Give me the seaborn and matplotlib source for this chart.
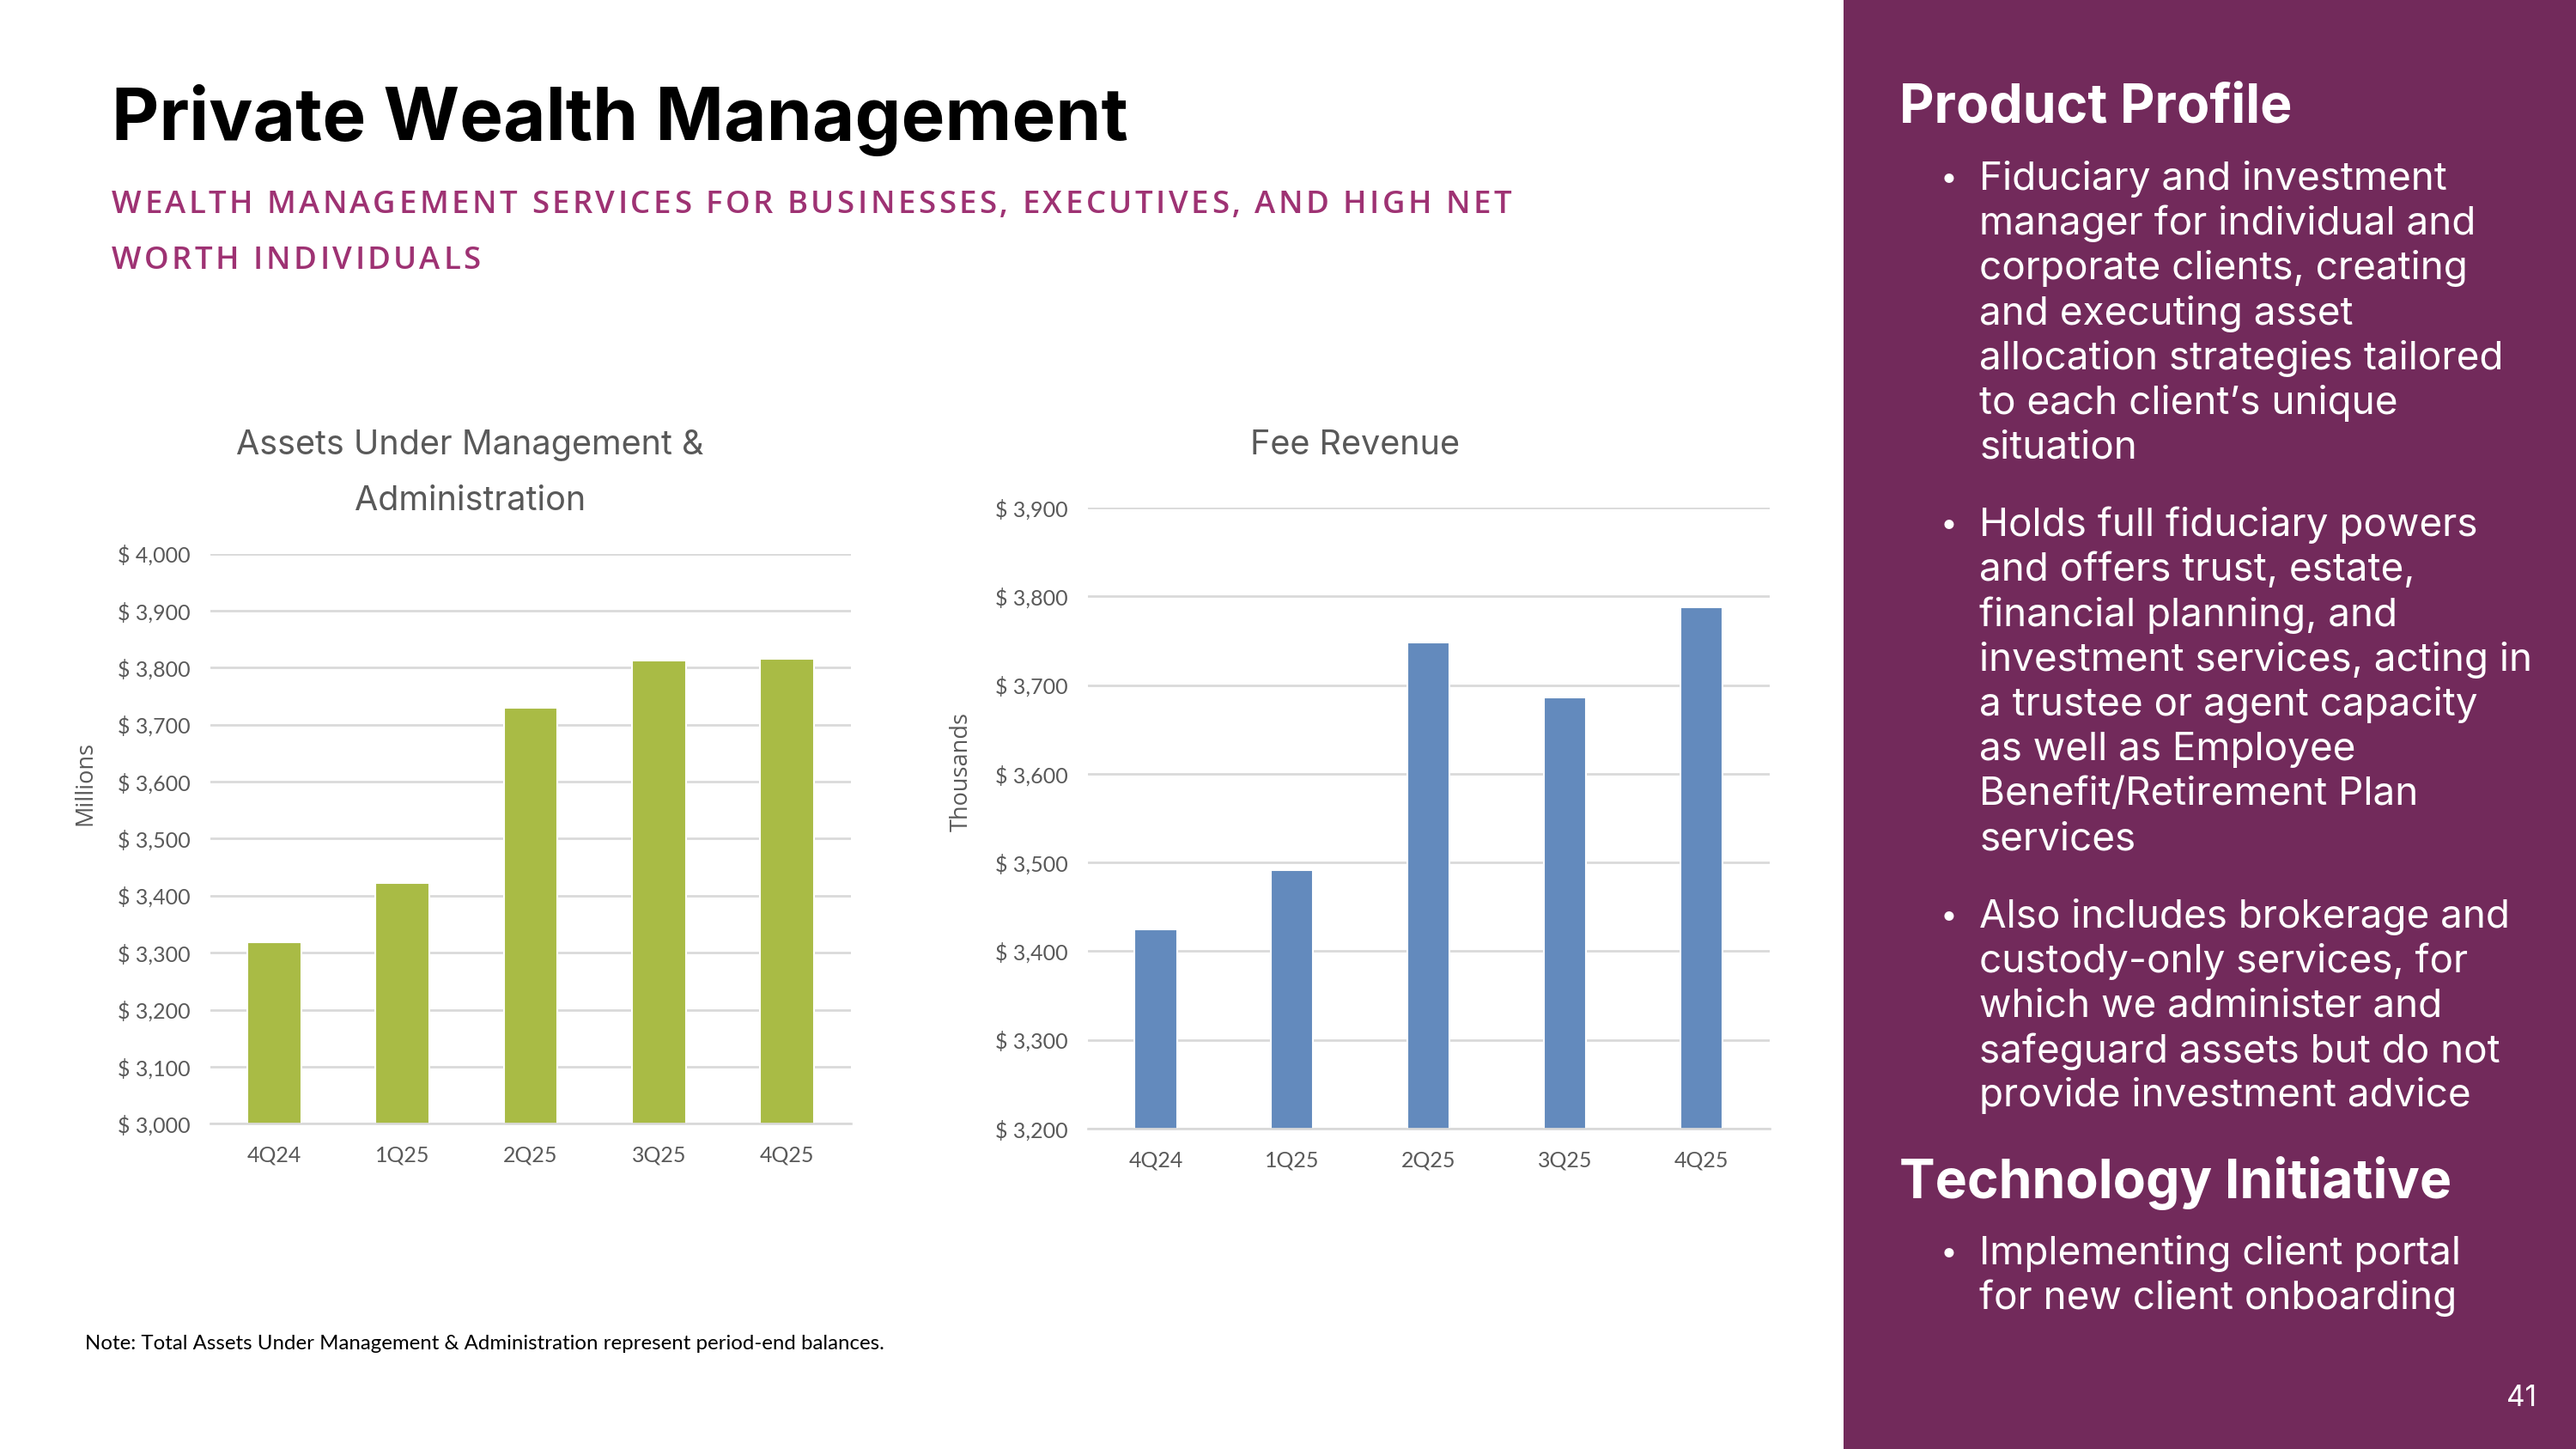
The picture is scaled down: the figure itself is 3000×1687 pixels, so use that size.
import matplotlib
matplotlib.use('Agg')
import matplotlib.pyplot as plt
import seaborn as sns
import pandas as pd
from matplotlib.ticker import FuncFormatter, MultipleLocator


quarters = ["4Q24", "1Q25", "2Q25", "3Q25", "4Q25"]
aum_values = [3319, 3423, 3730, 3813, 3815]        # millions
fee_values = [3425, 3491, 3748, 3686, 3788]        # thousands

bullets_profile = [
    ["Fiduciary and investment", "manager for individual and", "corporate clients, creating",
     "and executing asset", "allocation strategies tailored", "to each client\u2019s unique",
     "situation"],
    ["Holds full fiduciary powers", "and offers trust, estate,", "financial planning, and",
     "investment services, acting in", "a trustee or agent capacity", "as well as Employee",
     "Benefit/Retirement Plan", "services"],
    ["Also includes brokerage and", "custody-only services, for", "which we administer and",
     "safeguard assets but do not", "provide investment advice"],
]
bullets_tech = [["Implementing client portal", "for new client onboarding"]]

GREEN = "#A9BB45"
BLUE = "#638ABD"
GRID = "#D9D9D9"
GRAY = "#595959"
PLUM = "#722A5B"
MAGENTA = "#9E3273"

sns.set_theme(style="white")
plt.rcParams['font.family'] = ['Open Sans', 'DejaVu Sans']

W, H = 1568, 882
fig = plt.figure(figsize=(20, 20 * 1687 / 3000), dpi=150)
renderer = fig.canvas.get_renderer()
PX = 3000 / W   # output pixels per reference-view pixel


def fx(x):
    return x / W


def fy(y):
    return 1 - y / H


def money(v, pos):
    return f"$ {v:,.0f}"


def text_width(s, **kw):
    t = fig.text(0, 0, s, **kw)
    w = t.get_window_extent(renderer).width
    t.remove()
    return w


def spaced_text(x, y, s, target_w=None, spacing=None, **kw):
    # letter-spaced text, drawn glyph by glyph
    n = len(s)
    if spacing is None:
        spacing = (target_w * PX - text_width(s, **kw)) / (n - 1)
    x0 = x * fig.bbox.width
    for i, ch in enumerate(s):
        if ch == " ":
            continue
        xr = x0 + text_width(s[:i + 1], **kw) + spacing * i
        fig.text(xr / fig.bbox.width, y, ch, ha='right', **kw)
    return spacing


def bar_chart(rect, values, color, ylim, title_lines, title_cx, ylabel, ylab_x, ylab_y, width):
    ax = fig.add_axes(rect)
    df = pd.DataFrame({"quarter": quarters, "value": values})
    sns.barplot(data=df, x="quarter", y="value", color=color, width=width,
                saturation=1, ax=ax)
    ax.set_ylim(*ylim)
    ax.yaxis.set_major_locator(MultipleLocator(100))
    ax.yaxis.set_major_formatter(FuncFormatter(money))
    ax.grid(True, axis='y', color=GRID, lw=1.3)
    ax.set_axisbelow(True)
    for s in ["top", "right", "left"]:
        ax.spines[s].set_visible(False)
    ax.spines["bottom"].set_color(GRID)
    ax.spines["bottom"].set_linewidth(1.3)
    ax.tick_params(axis='both', length=0, labelsize=12, colors=GRAY)
    ax.tick_params(axis='x', pad=12)
    ax.tick_params(axis='y', pad=11)
    for t in ax.get_xticklabels() + ax.get_yticklabels():
        t.set_fontfamily(['Lato', 'DejaVu Sans'])
    ax.set_xlabel("")
    ax.set_ylabel("")
    fig.text(fx(ylab_x), fy(ylab_y), ylabel, rotation=90, ha='center', va='center',
             fontsize=13, color=GRAY, family=['Open Sans', 'DejaVu Sans'])
    for y, line in title_lines:
        fig.text(fx(title_cx), fy(y), line, ha='center', va='center', fontsize=19,
                 color=GRAY, family=['Inter', 'DejaVu Sans'])
    return ax


bar_chart([fx(128), fy(684), fx(518) - fx(128), fy(337) - fy(684)], aum_values, GREEN,
          (3000, 4000), [(271, "Assets Under Management &"), (305, "Administration")], 286,
          "Millions", 52, 477, 0.42)
bar_chart([fx(662), fy(687), fx(1077) - fx(662), fy(309) - fy(687)], fee_values, BLUE,
          (3200, 3900), [(271, "Fee Revenue")], 825,
          "Thousands", 585, 470, 0.31)

# header
fig.text(fx(68), fy(73), "Private Wealth Management", fontsize=41, fontweight='bold',
         color='black', va='center', ha='left', family=['Inter', 'DejaVu Sans'])
sub_kw = dict(fontsize=17.5, color=MAGENTA, va='center', fontweight='semibold',
              family=['Open Sans', 'DejaVu Sans'])
sp = spaced_text(fx(68), fy(125), "WEALTH MANAGEMENT SERVICES FOR BUSINESSES, EXECUTIVES, AND HIGH NET",
                 target_w=852, **sub_kw)
spaced_text(fx(68), fy(159), "WORTH INDIVIDUALS", spacing=sp, **sub_kw)
fig.text(fx(52), fy(818), "Note: Total Assets Under Management & Administration represent period-end balances.",
         fontsize=11.5, color='black', va='center', ha='left', family=['Lato', 'DejaVu Sans'])

# sidebar
side = fig.add_axes([fx(1122), 0, 1 - fx(1122), 1])
side.set_facecolor(PLUM)
side.set_xticks([])
side.set_yticks([])
for s in side.spines.values():
    s.set_visible(False)

head_kw = dict(fontsize=30, fontweight='bold', color='white', va='center', ha='left',
               family=['Inter', 'DejaVu Sans'])
body_kw = dict(fontsize=22, color='white', va='center', ha='left',
               family=['Inter', 'DejaVu Sans'])
STEP = 27.3
GAP = 19.7


def bullet_block(y, blocks):
    for lines in blocks:
        fig.text(fx(1181), fy(y), "\u2022", fontsize=17, color='white', va='center',
                 ha='left', family=['Inter', 'DejaVu Sans'])
        for line in lines:
            fig.text(fx(1205), fy(y), line, **body_kw)
            y += STEP
        y += GAP


fig.text(fx(1156), fy(66), "Product Profile", **head_kw)
bullet_block(109, bullets_profile)
fig.text(fx(1156), fy(720), "Technology Initiative", **head_kw)
bullet_block(763, bullets_tech)

fig.text(fx(1544), fy(851), "41", fontsize=16, color='white', ha='right', va='center',
         family=['Inter', 'DejaVu Sans'])

fig.savefig("out.png", dpi=150)
plt.close(fig)
